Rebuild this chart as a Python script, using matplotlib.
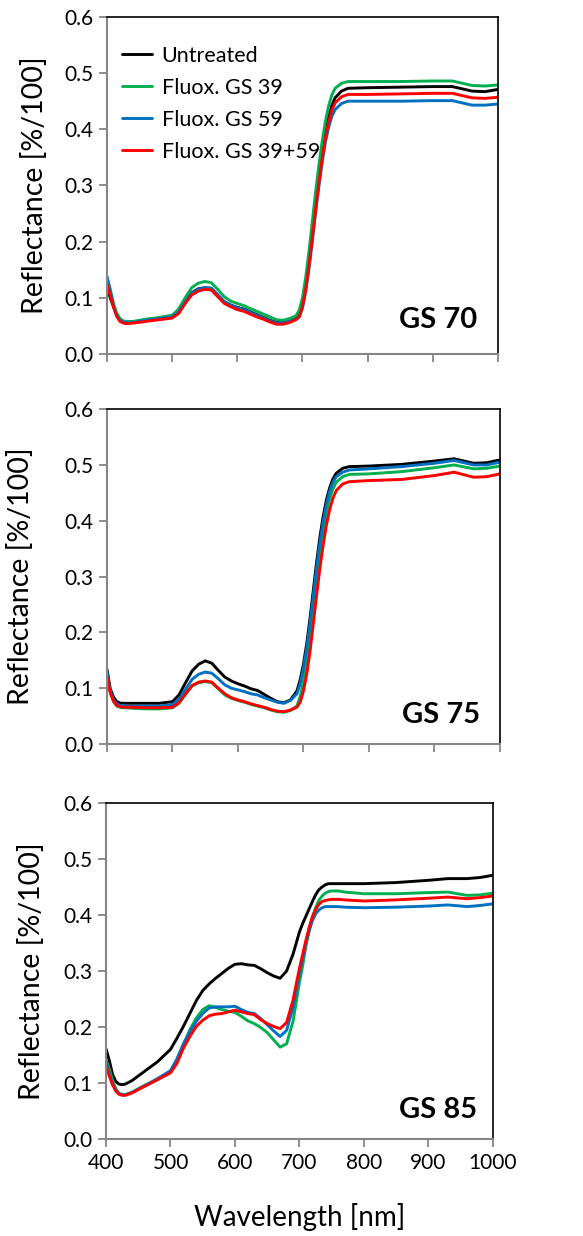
import matplotlib
matplotlib.use("Agg")
import matplotlib.pyplot as plt
from matplotlib.ticker import FormatStrFormatter, MultipleLocator

plt.rcParams["font.family"] = ["Lato", "DejaVu Sans"]

# wavelength grid shared by every spectrum [nm]
wavelength = [400, 405, 410, 415, 420, 425, 430, 440, 460, 480, 500, 510, 520, 530, 540, 550,
              560, 570, 580, 590, 600, 610, 620, 630, 640, 650, 660, 670, 680, 690, 695, 700,
              705, 710, 715, 720, 725, 730, 735, 740, 745, 750, 760, 770, 800, 850, 900, 930,
              960, 980, 1000]

series_labels = ["Untreated", "Fluox. GS 39", "Fluox. GS 59", "Fluox. GS 39+59"]
panel_labels = ["GS 70", "GS 75", "GS 85"]

# GS 70
gs70_untreated = [.117, .100, .084, .069, .061, .057, .056, .056, .060, .063, .067, .076, .094, .109, .116, .118,
                  .117, .105, .093, .087, .083, .080, .075, .070, .065, .060, .056, .056, .059, .064, .070, .088,
                  .120, .164, .214, .265, .313, .355, .392, .421, .442, .456, .468, .473, .474, .475, .476, .476,
                  .468, .467, .471]
gs70_fluox39 = [.136, .115, .090, .072, .063, .059, .058, .058, .062, .065, .069, .080, .100, .118, .126, .129,
                .127, .115, .102, .094, .090, .086, .081, .076, .071, .066, .061, .060, .063, .068, .078, .100,
                .137, .183, .235, .287, .335, .377, .413, .441, .461, .473, .482, .485, .485, .485, .486, .486,
                .478, .477, .479]
gs70_fluox59 = [.138, .112, .085, .068, .060, .057, .056, .056, .060, .063, .066, .075, .093, .108, .115, .118,
                .117, .105, .093, .087, .082, .079, .074, .069, .064, .059, .055, .055, .058, .062, .066, .082,
                .112, .152, .200, .250, .297, .340, .376, .403, .423, .435, .446, .450, .450, .450, .451, .451,
                .443, .443, .445]
gs70_fluox3959 = [.123, .104, .084, .067, .058, .055, .054, .055, .058, .061, .064, .072, .090, .105, .112, .115,
                  .114, .102, .090, .084, .079, .076, .071, .066, .062, .057, .053, .053, .056, .061, .066, .084,
                  .115, .157, .205, .255, .303, .346, .383, .412, .434, .447, .458, .462, .462, .463, .464, .464,
                  .456, .455, .457]

# GS 75
gs75_untreated = [.134, .099, .084, .076, .0735, .073, .073, .073, .073, .073, .076, .088, .110, .131, .143, .149,
                  .145, .132, .120, .113, .108, .104, .099, .096, .089, .082, .076, .074, .079, .095, .115, .143,
                  .180, .225, .275, .325, .370, .407, .437, .459, .475, .485, .494, .497, .498, .501, .507, .511,
                  .503, .504, .509]
gs75_fluox39 = [.125, .093, .076, .068, .066, .065, .065, .064, .063, .063, .065, .073, .089, .104, .110, .112,
                .110, .099, .088, .082, .078, .075, .071, .068, .065, .061, .058, .057, .060, .068, .085, .112,
                .148, .193, .242, .293, .340, .380, .413, .439, .457, .469, .479, .483, .484, .488, .495, .500,
                .493, .494, .498]
gs75_fluox59 = [.130, .095, .080, .072, .069, .069, .068, .068, .068, .068, .071, .080, .098, .116, .125, .129,
                .127, .117, .106, .100, .097, .094, .090, .088, .083, .079, .075, .073, .078, .090, .108, .136,
                .172, .216, .265, .315, .360, .398, .429, .453, .469, .479, .487, .491, .493, .497, .503, .508,
                .500, .500, .505]
gs75_fluox3959 = [.120, .092, .077, .069, .067, .066, .066, .066, .065, .065, .066, .074, .090, .105, .111, .113,
                  .111, .100, .090, .083, .079, .076, .072, .069, .066, .062, .059, .058, .061, .066, .075, .095,
                  .125, .166, .215, .266, .314, .356, .392, .420, .440, .454, .466, .470, .472, .474, .481, .487,
                  .478, .479, .484]

# GS 85
gs85_untreated = [.161, .141, .116, .103, .098, .097, .098, .104, .121, .138, .160, .180, .201, .224, .247, .265,
                  .277, .287, .296, .305, .312, .313, .311, .310, .304, .297, .291, .287, .300, .330, .350, .370,
                  .385, .398, .411, .424, .436, .445, .450, .454, .456, .456, .456, .456, .456, .458, .462, .465,
                  .465, .467, .471]
gs85_fluox39 = [.142, .125, .106, .090, .082, .079, .079, .083, .096, .106, .120, .138, .168, .195, .216, .231,
                .238, .235, .231, .228, .226, .219, .211, .206, .199, .190, .177, .164, .170, .210, .245, .280,
                .310, .345, .372, .395, .413, .426, .434, .439, .442, .443, .443, .441, .438, .438, .440, .441,
                .435, .436, .439]
gs85_fluox59 = [.139, .118, .100, .088, .081, .079, .079, .083, .095, .108, .122, .143, .170, .191, .210, .224,
                .234, .236, .236, .236, .237, .231, .226, .224, .215, .204, .193, .183, .194, .235, .265, .295,
                .322, .350, .372, .390, .402, .409, .413, .415, .415, .415, .415, .414, .413, .414, .416, .418,
                .415, .417, .420]
gs85_fluox3959 = [.133, .113, .097, .086, .080, .078, .078, .082, .094, .106, .118, .135, .162, .183, .201, .212,
                  .220, .223, .224, .227, .230, .227, .224, .222, .213, .206, .201, .197, .208, .248, .277, .305,
                  .330, .355, .378, .397, .410, .419, .424, .426, .427, .428, .428, .427, .425, .427, .430, .432,
                  .429, .431, .434]

panels = [
    [gs70_untreated, gs70_fluox39, gs70_fluox59, gs70_fluox3959],
    [gs75_untreated, gs75_fluox39, gs75_fluox59, gs75_fluox3959],
    [gs85_untreated, gs85_fluox39, gs85_fluox59, gs85_fluox3959],
]

colors = ["#000000", "#00B050", "#0070C0", "#FF0000"]
axis_grey = "#868686"

# axes rectangles in figure fraction, and the per-panel label placement
rects = [
    (0.1835, 0.7136, 0.6707, 0.2727),
    (0.1835, 0.3980, 0.6740, 0.2710),
    (0.1818, 0.0785, 0.6638, 0.2718),
]
ylabel_x = [-0.150, -0.186, -0.158]
tag_pos = [(0.946, 0.077), (0.949, 0.063), (0.959, 0.0625)]

fig = plt.figure(figsize=(5.83, 12.36), dpi=100)

for i, spectra in enumerate(panels):
    ax = fig.add_axes(rects[i])
    for values, color, label in zip(spectra, colors, series_labels):
        ax.plot(wavelength, values, color=color, lw=2.1, label=label, solid_capstyle="round")

    ax.set_xlim(400, 1000)
    ax.set_ylim(0, 0.6)
    ax.xaxis.set_major_locator(MultipleLocator(100))
    ax.yaxis.set_major_locator(MultipleLocator(0.1))
    ax.yaxis.set_major_formatter(FormatStrFormatter("%.1f"))
    ax.tick_params(direction="out", length=6, width=1.3, color=axis_grey,
                   labelsize=15, pad=4)
    if i < 2:
        ax.tick_params(axis="x", labelbottom=False)

    for side in ("left", "bottom"):
        ax.spines[side].set_color(axis_grey)
        ax.spines[side].set_linewidth(1.5)
    for side in ("top", "right"):
        ax.spines[side].set_color("black")
        ax.spines[side].set_linewidth(1.2)

    ax.set_ylabel("Reflectance [%/100]", fontsize=20.5)
    ax.yaxis.set_label_coords(ylabel_x[i], 0.5)

    ax.text(tag_pos[i][0], tag_pos[i][1], panel_labels[i], transform=ax.transAxes,
            ha="right", va="baseline", fontsize=21, fontweight="bold")

    if i == 0:
        ax.legend(loc="upper left", bbox_to_anchor=(0.038, 0.915), frameon=False,
                  fontsize=15.5, handlelength=1.4, handletextpad=0.45,
                  labelspacing=0.56, borderaxespad=0, borderpad=0)
    if i == 2:
        ax.set_xlabel("Wavelength [nm]", fontsize=20, labelpad=22)

fig.savefig("out.png", dpi=100)
